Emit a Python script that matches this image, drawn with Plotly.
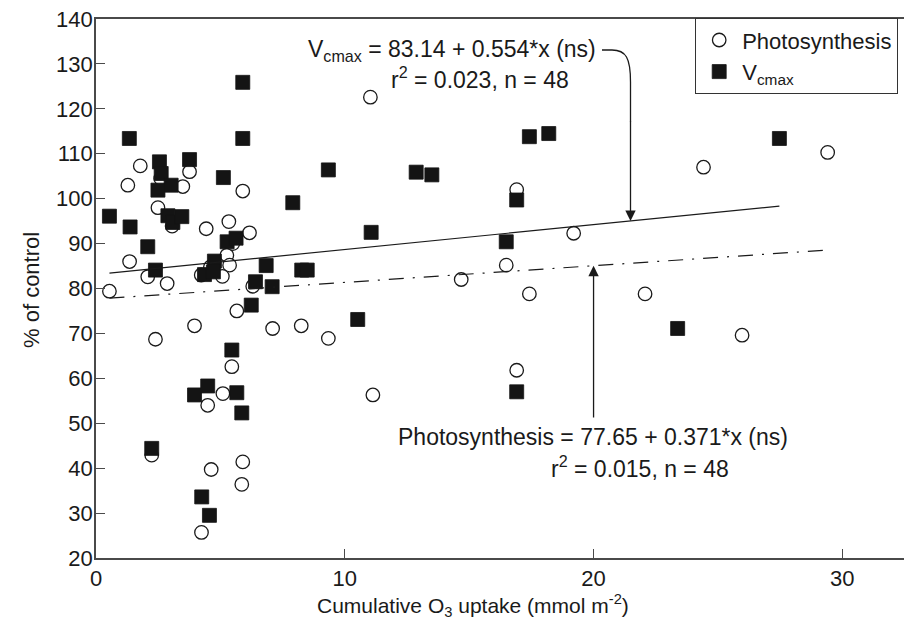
import plotly.graph_objects as go

# ---- data ----
photo_x = [0.54, 1.28, 1.78, 3.76, 3.49, 2.49, 3.06, 4.43, 1.35, 2.08, 2.86, 5.90, 5.34, 6.17,
           5.26, 5.37, 5.08, 3.96, 2.39, 4.49, 2.24, 4.63, 5.66, 7.10, 8.25, 5.46, 5.10, 5.90,
           5.86, 4.24, 11.03, 16.91, 19.20, 16.49, 14.68, 17.42, 9.34, 16.91, 11.13, 29.41,
           24.42, 22.07, 25.97, 4.23, 5.50, 4.60, 2.60, 6.30]
photo_y = [79.4, 103.0, 107.3, 106.0, 102.7, 98.0, 93.9, 93.3, 86.0, 82.6, 81.1, 101.7, 94.9, 92.4,
           87.4, 85.2, 82.7, 71.7, 68.7, 54.0, 42.9, 39.7, 75.0, 71.1, 71.7, 62.6, 56.6, 41.4,
           36.4, 25.7, 122.6, 102.0, 92.3, 85.2, 82.0, 78.8, 68.9, 61.8, 56.3, 110.3,
           107.0, 78.8, 69.6, 83.0, 90.0, 84.8, 104.5, 80.5]

vc_x = [1.34, 2.55, 3.76, 2.62, 3.02, 2.49, 0.54, 2.89, 3.09, 3.45, 1.37, 2.08, 2.39, 5.90,
        5.90, 5.12, 7.91, 5.27, 5.63, 4.76, 4.36, 4.72, 6.84, 8.27, 8.49, 6.41, 7.08, 6.24,
        3.96, 4.49, 2.24, 4.25, 4.56, 5.46, 5.66, 5.86, 17.42, 18.20, 9.34, 12.87, 13.50,
        16.91, 11.06, 16.49, 10.52, 16.91, 27.47, 23.38]
vc_y = [113.4, 108.2, 108.7, 105.6, 103.0, 101.9, 96.1, 96.2, 94.7, 96.0, 93.7, 89.3, 84.1, 113.4,
        125.9, 104.7, 99.1, 90.4, 91.2, 86.1, 83.1, 83.7, 85.1, 84.1, 84.1, 81.5, 80.4, 76.3,
        56.3, 58.3, 44.4, 33.6, 29.5, 66.3, 56.8, 52.3, 113.8, 114.5, 106.4, 105.9, 105.3,
        99.7, 92.5, 90.4, 73.1, 57.0, 113.4, 71.1]

vc_fit = (83.14, 0.554)
photo_fit = (77.65, 0.371)

x_ticks = [0, 10, 20, 30]
y_ticks = [20, 30, 40, 50, 60, 70, 80, 90, 100, 110, 120, 130, 140]

# ---- layout geometry (page has an 8px body margin; compensate) ----
OFF = 8
W, H = 912 - OFF, 619 - OFF
ML, MR, MT, MB = 96 - OFF, 0, 19 - OFF, 61
XR = [0, 32.8]
YR = [20, 140]


# helpers take positions in page pixels
def px2x(px):
    return XR[0] + (px - OFF - ML) / (W - ML - MR) * (XR[1] - XR[0])


def py2y(py):
    return YR[1] - (py - OFF - MT) / (H - MT - MB) * (YR[1] - YR[0])


def px2paper(px):
    return (px - OFF - ML) / (W - ML - MR)


def py2paper(py):
    return (H - MB - (py - OFF)) / (H - MT - MB)


FONT = "Liberation Sans, Arial, Helvetica, sans-serif"
INK = "#1a1a1a"

fig = go.Figure()

fig.add_trace(go.Scatter(
    x=photo_x, y=photo_y, mode="markers", name="Photosynthesis",
    marker=dict(symbol="circle", size=13.5, color="white",
                line=dict(color=INK, width=1.3)),
))
fig.add_trace(go.Scatter(
    x=vc_x, y=vc_y, mode="markers", name="V<sub>cmax</sub>",
    marker=dict(symbol="square", size=14, color="#141414",
                line=dict(color="#141414", width=0.8)),
))

# regression lines
vx0, vx1 = min(vc_x), max(vc_x)
fig.add_trace(go.Scatter(
    x=[vx0, vx1], y=[vc_fit[0] + vc_fit[1] * vx0, vc_fit[0] + vc_fit[1] * vx1],
    mode="lines", showlegend=False, hoverinfo="skip",
    line=dict(color=INK, width=1.2),
))
px0, px1 = min(photo_x), max(photo_x)
fig.add_trace(go.Scatter(
    x=[px0, px1], y=[photo_fit[0] + photo_fit[1] * px0, photo_fit[0] + photo_fit[1] * px1],
    mode="lines", showlegend=False, hoverinfo="skip",
    line=dict(color=INK, width=1.2, dash="15px,9px,2px,9px"),
))

# ---- annotations ----
ann_font = dict(family=FONT, size=23, color=INK)
annotations = [
    dict(x=px2x(452), y=py2y(50), text="V<sub>cmax</sub> = 83.14 + 0.554*x (ns)"),
    dict(x=px2x(480), y=py2y(78), text="r<sup>2</sup> = 0.023, n = 48"),
    dict(x=px2x(593), y=py2y(437), text="Photosynthesis = 77.65 + 0.371*x (ns)"),
    dict(x=px2x(640), y=py2y(467), text="r<sup>2</sup> = 0.015, n = 48"),
]
for a in annotations:
    a.update(xref="x", yref="y", showarrow=False, font=ann_font)

# axis titles
annotations.append(dict(
    x=px2paper(473), y=py2paper(605), xref="paper", yref="paper",
    text="Cumulative O<sub>3</sub> uptake (mmol m<sup>-2</sup>)", showarrow=False,
    font=dict(family=FONT, size=21, color=INK), xanchor="center", yanchor="middle",
))
annotations.append(dict(
    x=px2paper(31), y=py2paper(290), xref="paper", yref="paper",
    text="% of control", showarrow=False, textangle=-90,
    font=dict(family=FONT, size=22, color=INK), xanchor="center", yanchor="middle",
))

# arrows
tip_top_x = px2x(630.5)
tip_top_y = vc_fit[0] + vc_fit[1] * tip_top_x
annotations.append(dict(
    x=tip_top_x, y=tip_top_y, ax=tip_top_x, ay=py2y(120),
    xref="x", yref="y", axref="x", ayref="y", text="", showarrow=True,
    arrowhead=2, arrowsize=1.6, arrowwidth=1.3, arrowcolor=INK,
))
tip_bot_x = 20.0
tip_bot_y = photo_fit[0] + photo_fit[1] * tip_bot_x
annotations.append(dict(
    x=tip_bot_x, y=tip_bot_y, ax=tip_bot_x, ay=py2y(419),
    xref="x", yref="y", axref="x", ayref="y", text="", showarrow=True,
    arrowhead=2, arrowsize=1.6, arrowwidth=1.3, arrowcolor=INK,
))

# curved lead-in of the top arrow
path = ("M {:.4f},{:.4f} L {:.4f},{:.4f} C {:.4f},{:.4f} {:.4f},{:.4f} {:.4f},{:.4f} L {:.4f},{:.4f}"
        .format(px2x(602), py2y(50), px2x(612), py2y(50),
                px2x(626), py2y(50), px2x(630.5), py2y(58), px2x(630.5), py2y(82),
                px2x(630.5), py2y(122)))
shapes = [dict(type="path", path=path, xref="x", yref="y",
               line=dict(color=INK, width=1.3))]

axis_common = dict(
    showgrid=False, zeroline=False, showline=True, linecolor="#4a4a4a", linewidth=1.6,
    ticks="inside", ticklen=9, tickwidth=1.2, tickcolor="#4a4a4a",
    tickfont=dict(family=FONT, size=22, color=INK), automargin=False,
    ticklabeloverflow="allow",
)

fig.update_layout(
    width=W, height=H,
    margin=dict(l=ML, r=MR, t=MT, b=MB, autoexpand=False),
    plot_bgcolor="white", paper_bgcolor="white",
    font=dict(family=FONT, color=INK),
    xaxis=dict(range=XR, tickvals=x_ticks, mirror=True, **axis_common),
    yaxis=dict(range=YR, tickvals=y_ticks, mirror=False, ticklabelstandoff=-3, **axis_common),
    legend=dict(x=px2paper(695), y=py2paper(18), xanchor="left", yanchor="top",
                bgcolor="white", bordercolor="#333333", borderwidth=1.2,
                font=dict(family=FONT, size=22, color=INK),
                tracegroupgap=0, itemwidth=36, entrywidth=240),
    annotations=annotations,
    shapes=shapes,
    showlegend=True,
)

fig.write_html("out.html")
